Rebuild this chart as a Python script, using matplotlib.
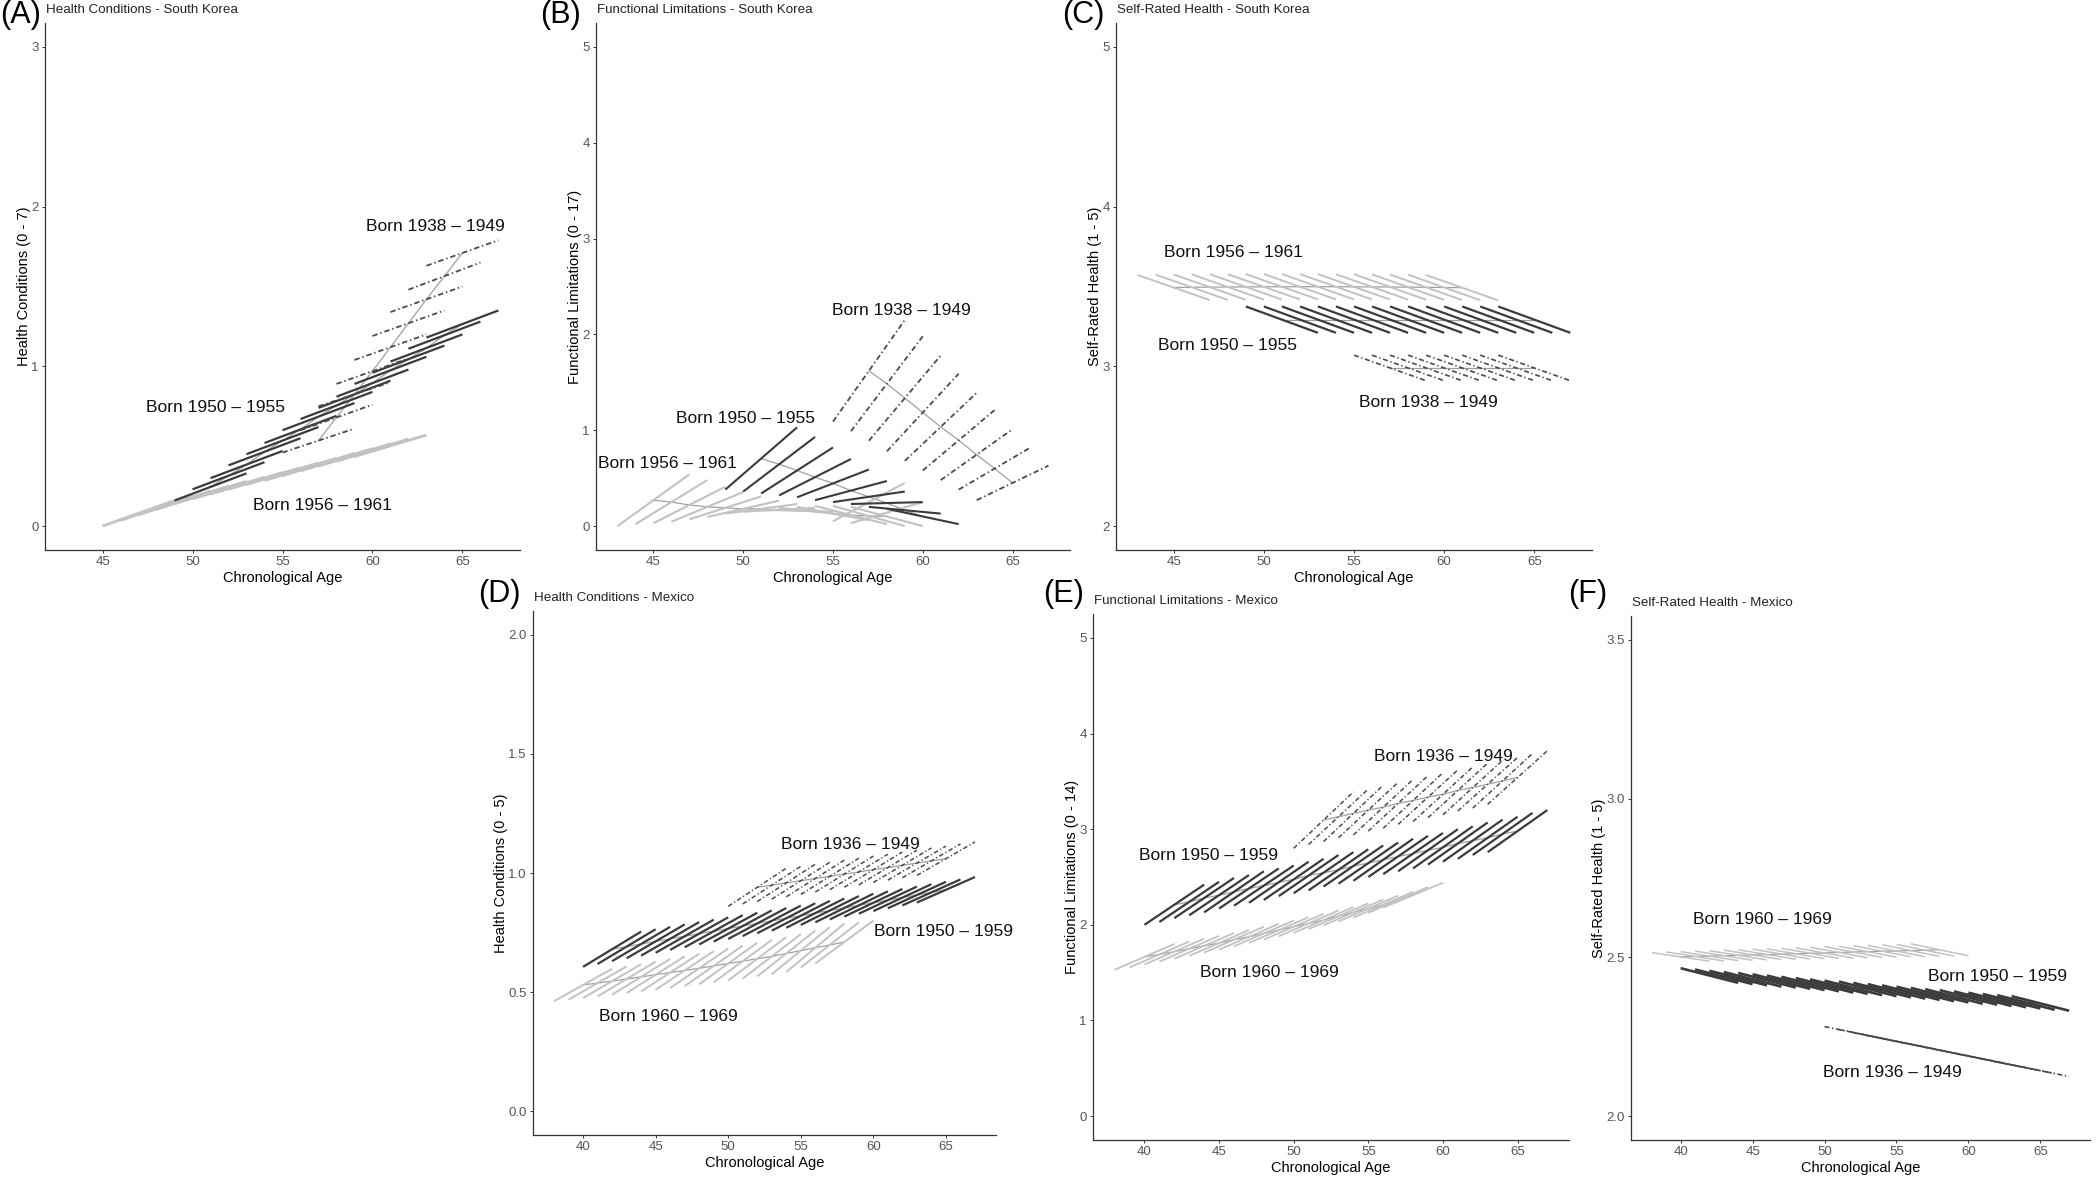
import matplotlib
matplotlib.use("Agg")
import matplotlib.pyplot as plt

plt.rcParams["font.family"] = ["Liberation Sans", "DejaVu Sans"]

W, H = 2100, 1181
SPAN = 4  # each trajectory segment covers four years of age

LIGHT = "#c2c2c2"
DARK = "#3b3b3b"
DASHC = "#4a4a4a"
MIDC = "#a0a0a0"
DOTDASH = (0, (3, 1.6, 0.8, 1.6))

# ---------------- (A) Health conditions - South Korea ----------------
A_AGE_38 = list(range(55, 64))
A_Y0_38 = [0.46, 0.60, 0.75, 0.89, 1.04, 1.19, 1.34, 1.48, 1.63]
A_Y1_38 = [0.61, 0.76, 0.90, 1.05, 1.20, 1.35, 1.50, 1.65, 1.79]
A_AGE_50 = list(range(49, 64))
A_Y0_50 = [0.16, 0.23, 0.30, 0.38, 0.45, 0.52, 0.60, 0.67, 0.74, 0.81, 0.89, 0.96, 1.03, 1.11, 1.18]
A_Y1_50 = [0.33, 0.40, 0.47, 0.55, 0.62, 0.69, 0.77, 0.84, 0.91, 0.98, 1.06, 1.13, 1.20, 1.28, 1.35]
A_AGE_56 = list(range(45, 60))
A_Y0_56 = [0.00, 0.035, 0.07, 0.105, 0.14, 0.17, 0.20, 0.23, 0.26, 0.285, 0.315, 0.345, 0.375, 0.405, 0.435]
A_Y1_56 = [0.16, 0.19, 0.22, 0.25, 0.28, 0.305, 0.335, 0.365, 0.395, 0.425, 0.455, 0.485, 0.515, 0.545, 0.57]

# ---------------- (B) Functional limitations - South Korea ----------------
B_AGE_38 = list(range(55, 64))
B_Y0_38 = [1.09, 0.99, 0.89, 0.78, 0.68, 0.58, 0.48, 0.38, 0.27]
B_Y1_38 = [2.15, 1.98, 1.78, 1.59, 1.39, 1.21, 1.01, 0.82, 0.63]
B_AGE_50 = list(range(49, 59))
B_Y0_50 = [0.38, 0.36, 0.34, 0.32, 0.30, 0.27, 0.25, 0.23, 0.20, 0.18]
B_Y1_50 = [1.03, 0.93, 0.82, 0.70, 0.59, 0.47, 0.36, 0.25, 0.13, 0.02]
B_AGE_56 = list(range(43, 57))
B_Y0_56 = [0.00, 0.02, 0.03, 0.045, 0.07, 0.095, 0.13, 0.15, 0.17, 0.19, 0.20, 0.21, 0.21, 0.20]
B_Y1_56 = [0.54, 0.48, 0.41, 0.355, 0.31, 0.265, 0.23, 0.19, 0.15, 0.11, 0.06, 0.02, 0.00, 0.00]
# two late 1956-1961 trajectories that rise instead of falling
B_AGE_56_LATE = [55, 56]
B_Y0_56_LATE = [0.05, 0.03]
B_Y1_56_LATE = [0.45, 0.25]

# ---------------- (C) Self-rated health - South Korea ----------------
C_AGE_38 = list(range(55, 64))
C_Y0_38 = [3.07, 3.07, 3.07, 3.07, 3.07, 3.07, 3.07, 3.07, 3.07]
C_Y1_38 = [2.91, 2.91, 2.91, 2.91, 2.91, 2.91, 2.91, 2.91, 2.91]
C_AGE_50 = list(range(49, 64))
C_Y0_50 = [3.375] * 15
C_Y1_50 = [3.21] * 15
C_AGE_56 = list(range(43, 60))
C_Y0_56 = [3.572, 3.574, 3.575, 3.576, 3.577, 3.577, 3.578, 3.578, 3.578, 3.578, 3.578, 3.577, 3.577, 3.576, 3.575, 3.574, 3.572]
C_Y1_56 = [3.415, 3.416, 3.417, 3.418, 3.418, 3.419, 3.419, 3.419, 3.419, 3.419, 3.418, 3.418, 3.417, 3.416, 3.415, 3.414, 3.413]

# ---------------- (D) Health conditions - Mexico ----------------
D_AGE_36 = list(range(50, 64))
D_Y0_36 = [0.860, 0.870, 0.880, 0.890, 0.900, 0.910, 0.920, 0.930, 0.940, 0.950, 0.960, 0.970, 0.980, 0.990]
D_Y1_36 = [1.020, 1.028, 1.037, 1.045, 1.054, 1.062, 1.071, 1.079, 1.088, 1.096, 1.105, 1.113, 1.122, 1.130]
D_AGE_50 = list(range(40, 64))
D_Y0_50 = [0.606, 0.618, 0.630, 0.642, 0.653, 0.665, 0.677, 0.688, 0.700, 0.712, 0.723, 0.735,
           0.747, 0.758, 0.770, 0.782, 0.793, 0.805, 0.817, 0.829, 0.840, 0.852, 0.864, 0.876]
D_Y1_50 = [0.754, 0.764, 0.774, 0.784, 0.794, 0.804, 0.814, 0.823, 0.833, 0.843, 0.853, 0.863,
           0.873, 0.883, 0.893, 0.903, 0.913, 0.923, 0.933, 0.943, 0.953, 0.963, 0.973, 0.983]
D_AGE_60 = list(range(38, 57))
D_Y0_60 = [0.462, 0.468, 0.475, 0.482, 0.489, 0.496, 0.503, 0.510, 0.517, 0.525, 0.533, 0.541,
           0.549, 0.557, 0.566, 0.575, 0.584, 0.603, 0.620]
D_Y1_60 = [0.598, 0.608, 0.617, 0.628, 0.639, 0.650, 0.661, 0.672, 0.683, 0.695, 0.707, 0.719,
           0.731, 0.743, 0.758, 0.773, 0.788, 0.793, 0.800]

# ---------------- (E) Functional limitations - Mexico ----------------
E_AGE_36 = list(range(50, 64))
E_Y0_36 = [2.80, 2.84, 2.87, 2.91, 2.94, 2.98, 3.01, 3.05, 3.08, 3.12, 3.15, 3.19, 3.22, 3.26]
E_Y1_36 = [3.39, 3.42, 3.46, 3.49, 3.52, 3.56, 3.59, 3.62, 3.65, 3.69, 3.72, 3.75, 3.79, 3.82]
E_AGE_50 = list(range(40, 64))
E_Y0_50 = [2.00, 2.03, 2.07, 2.10, 2.13, 2.17, 2.20, 2.23, 2.26, 2.30, 2.33, 2.36,
           2.40, 2.43, 2.46, 2.50, 2.53, 2.56, 2.59, 2.63, 2.66, 2.69, 2.73, 2.76]
E_Y1_50 = [2.42, 2.45, 2.49, 2.52, 2.56, 2.59, 2.62, 2.66, 2.69, 2.73, 2.76, 2.79,
           2.83, 2.86, 2.90, 2.93, 2.96, 3.00, 3.03, 3.07, 3.10, 3.13, 3.17, 3.20]
E_AGE_60 = list(range(38, 57))
E_Y0_60 = [1.53, 1.555, 1.585, 1.615, 1.645, 1.675, 1.71, 1.74, 1.775, 1.81, 1.845, 1.88,
           1.915, 1.955, 1.995, 2.035, 2.075, 2.125, 2.18]
E_Y1_60 = [1.80, 1.825, 1.855, 1.885, 1.915, 1.945, 1.98, 2.01, 2.045, 2.08, 2.115, 2.15,
           2.185, 2.225, 2.265, 2.305, 2.345, 2.395, 2.44]

# ---------------- (F) Self-rated health - Mexico ----------------
F_AGE_36 = list(range(50, 64))
F_Y0_36 = [2.282, 2.273, 2.263, 2.254, 2.245, 2.236, 2.226, 2.217, 2.208, 2.199, 2.189, 2.180, 2.171, 2.162]
F_Y1_36 = [2.245, 2.236, 2.226, 2.217, 2.208, 2.199, 2.189, 2.180, 2.171, 2.162, 2.152, 2.143, 2.134, 2.125]
F_AGE_50 = list(range(40, 64))
F_Y0_50 = [2.466, 2.462, 2.458, 2.454, 2.451, 2.447, 2.443, 2.439, 2.435, 2.431, 2.427, 2.424,
           2.420, 2.416, 2.412, 2.408, 2.404, 2.400, 2.397, 2.393, 2.389, 2.385, 2.381, 2.378]
F_Y1_50 = [2.420, 2.416, 2.412, 2.408, 2.405, 2.401, 2.397, 2.393, 2.389, 2.385, 2.381, 2.378,
           2.374, 2.370, 2.366, 2.362, 2.358, 2.354, 2.351, 2.347, 2.343, 2.339, 2.335, 2.332]
F_AGE_60 = list(range(38, 57))
F_Y0_60 = [2.515, 2.517, 2.518, 2.520, 2.521, 2.523, 2.524, 2.526, 2.527, 2.529, 2.530, 2.532,
           2.534, 2.535, 2.537, 2.538, 2.540, 2.541, 2.543]
F_Y1_60 = [2.488, 2.489, 2.490, 2.491, 2.492, 2.493, 2.494, 2.495, 2.496, 2.497, 2.498, 2.499,
           2.500, 2.501, 2.502, 2.502, 2.503, 2.504, 2.505]

# panel texts
TITLES = ["Health Conditions - South Korea", "Functional Limitations - South Korea",
          "Self-Rated Health - South Korea", "Health Conditions - Mexico",
          "Functional Limitations - Mexico", "Self-Rated Health - Mexico"]
YLABELS = ["Health Conditions (0 - 7)", "Functional Limitations (0 - 17)", "Self-Rated Health (1 - 5)",
           "Health Conditions (0 - 5)", "Functional Limitations (0 - 14)", "Self-Rated Health (1 - 5)"]
LETTERS = ["(A)", "(B)", "(C)", "(D)", "(E)", "(F)"]
YTICKS = [[0, 1, 2, 3], [0, 1, 2, 3, 4, 5], [2, 3, 4, 5],
          [0.0, 0.5, 1.0, 1.5, 2.0], [0, 1, 2, 3, 4, 5], [2.0, 2.5, 3.0, 3.5]]
XTICKS_KR = [45, 50, 55, 60, 65]
XTICKS_MX = [40, 45, 50, 55, 60, 65]

# cohort labels: (text, age, value)
LABELS = [
    [("Born 1938 \u2013 1949", 63.5, 1.875), ("Born 1950 \u2013 1955", 51.3, 0.744), ("Born 1956 \u2013 1961", 57.2, 0.127)],
    [("Born 1938 \u2013 1949", 58.8, 2.25), ("Born 1950 \u2013 1955", 50.1, 1.12), ("Born 1956 \u2013 1961", 45.8, 0.657)],
    [("Born 1956 \u2013 1961", 48.3, 3.713), ("Born 1950 \u2013 1955", 48.0, 3.131), ("Born 1938 \u2013 1949", 59.1, 2.772)],
    [("Born 1936 \u2013 1949", 58.4, 1.119), ("Born 1950 \u2013 1959", 64.8, 0.755), ("Born 1960 \u2013 1969", 45.9, 0.397)],
    [("Born 1936 \u2013 1949", 60.0, 3.76), ("Born 1950 \u2013 1959", 44.3, 2.73), ("Born 1960 \u2013 1969", 48.4, 1.50)],
    [("Born 1960 \u2013 1969", 45.7, 2.62), ("Born 1950 \u2013 1959", 62.05, 2.44), ("Born 1936 \u2013 1949", 54.7, 2.136)],
]

# axes boxes in pixels: left, top, right, bottom
BOXES = [(45, 23, 520, 550), (596, 23, 1070, 550), (1116, 23, 1592, 550),
         (533, 611, 996, 1135), (1093, 614, 1569, 1140), (1631, 616, 2090, 1140)]
XLIMS = [(41.8, 68.2)] * 3 + [(36.55, 68.45)] * 3
YLIMS = [(-0.15, 3.15), (-0.25, 5.25), (1.85, 5.15), (-0.1, 2.1), (-0.25, 5.25), (1.925, 3.575)]
LETTER_POS = [(0, 0), (540, 0), (1062, 0), (478, 579), (1043, 579), (1568, 579)]


def draw_cohort(ax, ages, y0, y1, color, ls, lw, mid=True):
    if mid:
        mx = [a + SPAN / 2 for a in ages]
        my = [(s + e) / 2 for s, e in zip(y0, y1)]
        ax.plot(mx, my, color=MIDC, lw=0.9, zorder=2)
    for a, s, e in zip(ages, y0, y1):
        ax.plot([a, a + SPAN], [s, e], color=color, ls=ls, lw=lw,
                solid_capstyle="butt", dash_capstyle="butt", zorder=3)


fig = plt.figure(figsize=(W / 100, H / 100), dpi=100)
axes = []
for i, (l, t, r, b) in enumerate(BOXES):
    ax = fig.add_axes([l / W, 1 - b / H, (r - l) / W, (b - t) / H])
    axes.append(ax)
    ax.set_xlim(*XLIMS[i])
    ax.set_ylim(*YLIMS[i])
    for s in ["top", "right"]:
        ax.spines[s].set_visible(False)
    for s in ["left", "bottom"]:
        ax.spines[s].set_color("#333333")
        ax.spines[s].set_linewidth(0.9)
    ax.set_xticks(XTICKS_KR if i < 3 else XTICKS_MX)
    ax.set_yticks(YTICKS[i])
    if i in (3, 5):
        ax.set_yticklabels([f"{v:.1f}" for v in YTICKS[i]])
    ax.tick_params(length=2.5, width=0.7, color="#333333", labelcolor="#555555",
                   labelsize=9.5, pad=2)
    ax.set_xlabel("Chronological Age", fontsize=10.5, labelpad=2)
    ax.set_ylabel(YLABELS[i], fontsize=10.5, labelpad=0)
    ax.annotate(TITLES[i], xy=(0, 1), xycoords="axes fraction", xytext=(1, 5),
                textcoords="offset points", ha="left", va="bottom", fontsize=9.6,
                color="#222222")
    for txt, x, y in LABELS[i]:
        ax.text(x, y, txt, ha="center", va="center", fontsize=12.5, color="#111111", zorder=5)
    lx, ly = LETTER_POS[i]
    fig.text(lx / W, 1 - ly / H, LETTERS[i], ha="left", va="top", fontsize=22)

ax = axes[0]
draw_cohort(ax, A_AGE_56, A_Y0_56, A_Y1_56, LIGHT, "-", 2.0)
draw_cohort(ax, A_AGE_50, A_Y0_50, A_Y1_50, DARK, "-", 1.6)
draw_cohort(ax, A_AGE_38, A_Y0_38, A_Y1_38, DASHC, DOTDASH, 1.3)

ax = axes[1]
draw_cohort(ax, B_AGE_56, B_Y0_56, B_Y1_56, LIGHT, "-", 1.5)
draw_cohort(ax, B_AGE_56_LATE, B_Y0_56_LATE, B_Y1_56_LATE, LIGHT, "-", 1.5, mid=False)
draw_cohort(ax, B_AGE_50, B_Y0_50, B_Y1_50, DARK, "-", 1.5)
draw_cohort(ax, B_AGE_38, B_Y0_38, B_Y1_38, DASHC, DOTDASH, 1.3)

ax = axes[2]
draw_cohort(ax, C_AGE_56, C_Y0_56, C_Y1_56, LIGHT, "-", 1.4)
draw_cohort(ax, C_AGE_50, C_Y0_50, C_Y1_50, DARK, "-", 1.6)
draw_cohort(ax, C_AGE_38, C_Y0_38, C_Y1_38, DASHC, DOTDASH, 1.2)

ax = axes[3]
draw_cohort(ax, D_AGE_60, D_Y0_60, D_Y1_60, LIGHT, "-", 1.4)
draw_cohort(ax, D_AGE_50, D_Y0_50, D_Y1_50, DARK, "-", 1.6)
draw_cohort(ax, D_AGE_36, D_Y0_36, D_Y1_36, DASHC, DOTDASH, 1.1)

ax = axes[4]
draw_cohort(ax, E_AGE_60, E_Y0_60, E_Y1_60, LIGHT, "-", 1.3)
draw_cohort(ax, E_AGE_50, E_Y0_50, E_Y1_50, DARK, "-", 1.6)
draw_cohort(ax, E_AGE_36, E_Y0_36, E_Y1_36, DASHC, DOTDASH, 1.1)

ax = axes[5]
draw_cohort(ax, F_AGE_60, F_Y0_60, F_Y1_60, LIGHT, "-", 1.1)
draw_cohort(ax, F_AGE_50, F_Y0_50, F_Y1_50, DARK, "-", 1.9)
draw_cohort(ax, F_AGE_36, F_Y0_36, F_Y1_36, DASHC, DOTDASH, 1.2)

fig.savefig("out.png", dpi=100)
